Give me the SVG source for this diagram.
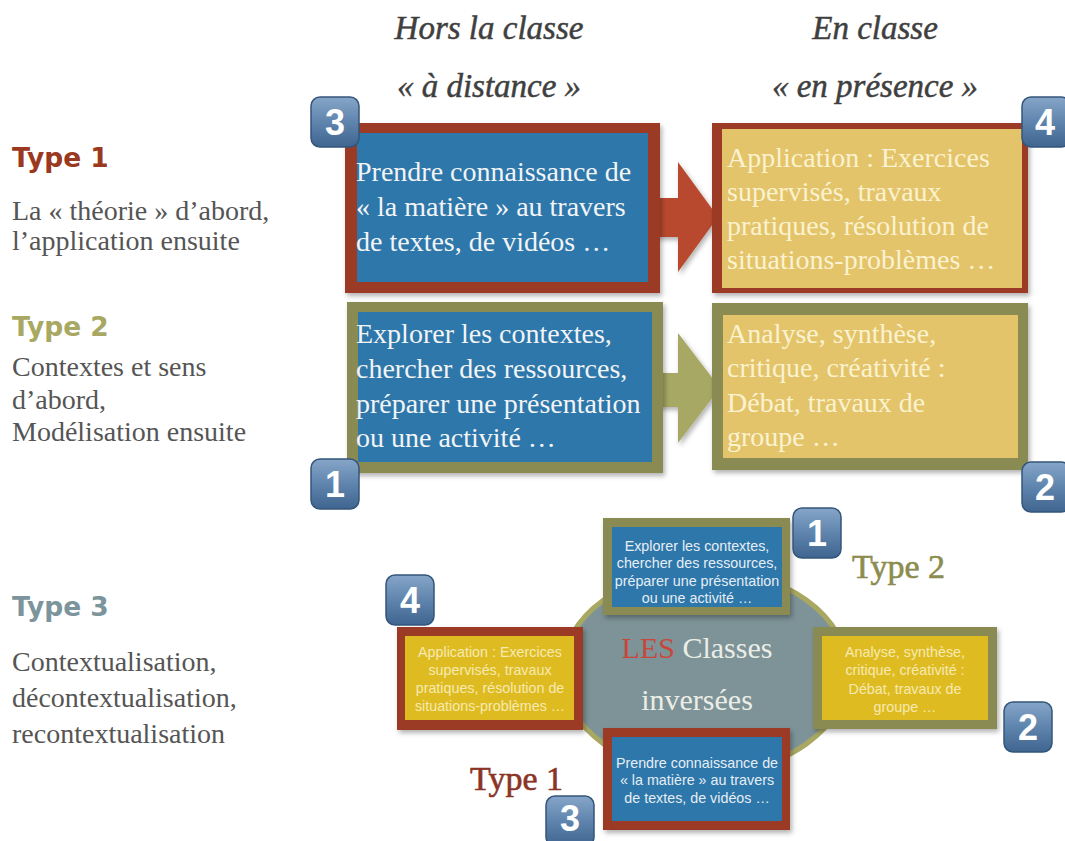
<svg xmlns="http://www.w3.org/2000/svg" width="1065" height="841" viewBox="0 0 1065 841">
<defs>
<linearGradient id="badgeGrad" x1="0" y1="0" x2="0" y2="1">
<stop offset="0" stop-color="#86A6C8"/>
<stop offset="0.5" stop-color="#5F84AD"/>
<stop offset="1" stop-color="#3F6590"/>
</linearGradient>
<filter id="shadow" x="-10%" y="-10%" width="130%" height="130%">
<feDropShadow dx="2" dy="3" stdDeviation="2.5" flood-color="#000" flood-opacity="0.3"/>
</filter>
<style>
.hdr{font-family:"Liberation Serif",serif;font-style:italic;font-size:33px;fill:#3f3f3f;stroke:#3f3f3f;stroke-width:0.5;text-anchor:middle}
.typeL{font-family:"DejaVu Sans",sans-serif;font-weight:bold;font-size:26.5px}
.desc{font-family:"Liberation Serif",serif;font-size:28px;fill:#555}
.boxT{font-family:"Liberation Serif",serif;font-size:28px}
.onBlue{fill:#F2F4F6}
.onYel{fill:#FBF2D0}
.small{font-family:"Liberation Sans",sans-serif;font-size:14.3px;text-anchor:middle}
.smallB{fill:#E6EEF5}
.smallY{fill:#F6EAB0}
.badgeR{fill:url(#badgeGrad);stroke:#34557A;stroke-width:1.5}
.badgeT{font-family:"Liberation Sans",sans-serif;font-weight:bold;font-size:36px;fill:#fff;text-anchor:middle}
.blue{fill:#2E77AA}
.red{fill:#9B3A26}
.olive{fill:#8A8A52}
.yelTop{fill:#E3C46A}
.yelBot{fill:#DFBB22}
.bigT{font-family:"Liberation Serif",serif;font-size:34px;stroke-width:0.6}
</style>
</defs>
<rect width="1065" height="841" fill="#fff"/>

<!-- Headers -->
<text class="hdr" x="489" y="39">Hors la classe</text>
<text class="hdr" x="489" y="97">« à distance »</text>
<text class="hdr" x="875" y="39">En classe</text>
<text class="hdr" x="875" y="97">« en présence »</text>

<!-- Left column -->
<g id="legend-type1">
<text class="typeL" x="12" y="167" fill="#9A3820">Type 1</text>
<text class="desc" x="12" y="220">La « théorie » d’abord,</text>
<text class="desc" x="12" y="250">l’application ensuite</text>
</g>
<g id="legend-type2">
<text class="typeL" x="12" y="336" fill="#A8A862">Type 2</text>
<text class="desc" x="12" y="376">Contextes et sens</text>
<text class="desc" x="12" y="409">d’abord,</text>
<text class="desc" x="12" y="441">Modélisation ensuite</text>
</g>
<g id="legend-type3">
<text class="typeL" x="12" y="616" fill="#7C949B">Type 3</text>
<text class="desc" x="12" y="671">Contextualisation,</text>
<text class="desc" x="12" y="707">décontextualisation,</text>
<text class="desc" x="12" y="743">recontextualisation</text>
</g>

<!-- Connectors (arrows) -->
<g id="connectors">
<polygon points="655,198 678,198 678,162 718,217 678,272 678,237 655,237" fill="#B8482E" filter="url(#shadow)"/>
<polygon points="658,373 678,373 678,333 720,388 678,443 678,407 658,407" fill="#A6A864" filter="url(#shadow)"/>
</g>

<!-- Type 1 row -->
<g id="t1-left">
<rect class="red" x="345" y="123" width="315" height="170" filter="url(#shadow)"/>
<rect class="blue" x="357" y="133" width="291" height="149"/>
<text class="boxT onBlue" x="356" y="181">Prendre connaissance de</text>
<text class="boxT onBlue" x="356" y="216">« la matière » au travers</text>
<text class="boxT onBlue" x="356" y="251">de textes, de vidéos …</text>
</g>
<g id="t1-right">
<rect class="red" x="712" y="123" width="316" height="170" filter="url(#shadow)"/>
<rect class="yelTop" x="722" y="129" width="300" height="159"/>
<text class="boxT onYel" x="727" y="167">Application : Exercices</text>
<text class="boxT onYel" x="727" y="201">supervisés, travaux</text>
<text class="boxT onYel" x="727" y="235">pratiques, résolution de</text>
<text class="boxT onYel" x="727" y="269">situations-problèmes …</text>
</g>

<!-- Type 2 row -->
<g id="t2-left">
<rect class="olive" x="347" y="302" width="316" height="171" filter="url(#shadow)"/>
<rect class="blue" x="358" y="312" width="294" height="150"/>
<text class="boxT onBlue" x="356" y="343">Explorer les contextes,</text>
<text class="boxT onBlue" x="356" y="378">chercher des ressources,</text>
<text class="boxT onBlue" x="356" y="413">préparer une présentation</text>
<text class="boxT onBlue" x="356" y="447">ou une activité …</text>
</g>
<g id="t2-right">
<rect class="olive" x="712" y="303" width="316" height="167" filter="url(#shadow)"/>
<rect class="yelTop" x="723" y="315" width="295" height="143"/>
<text class="boxT onYel" x="727" y="343">Analyse, synthèse,</text>
<text class="boxT onYel" x="727" y="377">critique, créativité :</text>
<text class="boxT onYel" x="727" y="412">Débat, travaux de</text>
<text class="boxT onYel" x="727" y="446">groupe …</text>
</g>

<!-- Top badges -->
<g id="badge-top-3"><rect class="badgeR" x="311" y="97" width="48" height="50" rx="9"/><text class="badgeT" x="335" y="135">3</text></g>
<g id="badge-top-4"><rect class="badgeR" x="1022" y="97" width="48" height="50" rx="9"/><text class="badgeT" x="1045" y="135">4</text></g>
<g id="badge-top-1"><rect class="badgeR" x="311" y="459" width="48" height="50" rx="9"/><text class="badgeT" x="335" y="497">1</text></g>
<g id="badge-top-2"><rect class="badgeR" x="1022" y="462" width="48" height="50" rx="9"/><text class="badgeT" x="1045" y="500">2</text></g>

<!-- Bottom: cycle -->
<g id="cycle">
<ellipse cx="705" cy="672" rx="143" ry="102" fill="#7D9398" stroke="#A9A862" stroke-width="5"/>
<text x="697" y="658" font-family="Liberation Serif, serif" font-size="30" text-anchor="middle"><tspan fill="#C9473A">LES</tspan><tspan fill="#ECEDE6"> Classes</tspan></text>
<text x="697" y="710" font-family="Liberation Serif, serif" font-size="30" fill="#ECEDE6" text-anchor="middle">inversées</text>
</g>

<g id="c-top">
<rect class="olive" x="603" y="518" width="187" height="97" filter="url(#shadow)"/>
<rect class="blue" x="612" y="527" width="170" height="80"/>
<text class="small smallB" x="697" y="551">Explorer les contextes,</text>
<text class="small smallB" x="697" y="568">chercher des ressources,</text>
<text class="small smallB" x="697" y="586">préparer une présentation</text>
<text class="small smallB" x="697" y="603">ou une activité …</text>
</g>
<g id="c-left">
<rect class="red" x="397" y="627" width="186" height="103" filter="url(#shadow)"/>
<rect class="yelBot" x="405" y="636" width="169" height="84"/>
<text class="small smallY" x="490" y="657">Application : Exercices</text>
<text class="small smallY" x="490" y="675">supervisés, travaux</text>
<text class="small smallY" x="490" y="693">pratiques, résolution de</text>
<text class="small smallY" x="490" y="711">situations-problèmes …</text>
</g>
<g id="c-right">
<rect class="olive" x="813" y="627" width="184" height="102" filter="url(#shadow)"/>
<rect class="yelBot" x="822" y="636" width="166" height="84"/>
<text class="small smallY" x="905" y="657">Analyse, synthèse,</text>
<text class="small smallY" x="905" y="675">critique, créativité :</text>
<text class="small smallY" x="905" y="694">Débat, travaux de</text>
<text class="small smallY" x="905" y="712">groupe …</text>
</g>
<g id="c-bottom">
<rect class="red" x="603" y="728" width="187" height="102" filter="url(#shadow)"/>
<rect class="blue" x="612" y="737" width="170" height="84"/>
<text class="small smallB" x="697" y="768">Prendre connaissance de</text>
<text class="small smallB" x="697" y="785">« la matière » au travers</text>
<text class="small smallB" x="697" y="803">de textes, de vidéos …</text>
</g>

<text class="bigT" x="852" y="578" fill="#8C8C4E" stroke="#8C8C4E">Type 2</text>
<text class="bigT" x="470" y="790" fill="#8B3425" stroke="#8B3425">Type 1</text>

<g id="badge-bot-1"><rect class="badgeR" x="793" y="508" width="48" height="50" rx="9"/><text class="badgeT" x="817" y="546">1</text></g>
<g id="badge-bot-4"><rect class="badgeR" x="386" y="575" width="48" height="50" rx="9"/><text class="badgeT" x="410" y="613">4</text></g>
<g id="badge-bot-2"><rect class="badgeR" x="1004" y="702" width="48" height="50" rx="9"/><text class="badgeT" x="1028" y="740">2</text></g>
<g id="badge-bot-3"><rect class="badgeR" x="546" y="796" width="48" height="50" rx="9"/><text class="badgeT" x="570" y="831" font-size="34">3</text></g>
</svg>
